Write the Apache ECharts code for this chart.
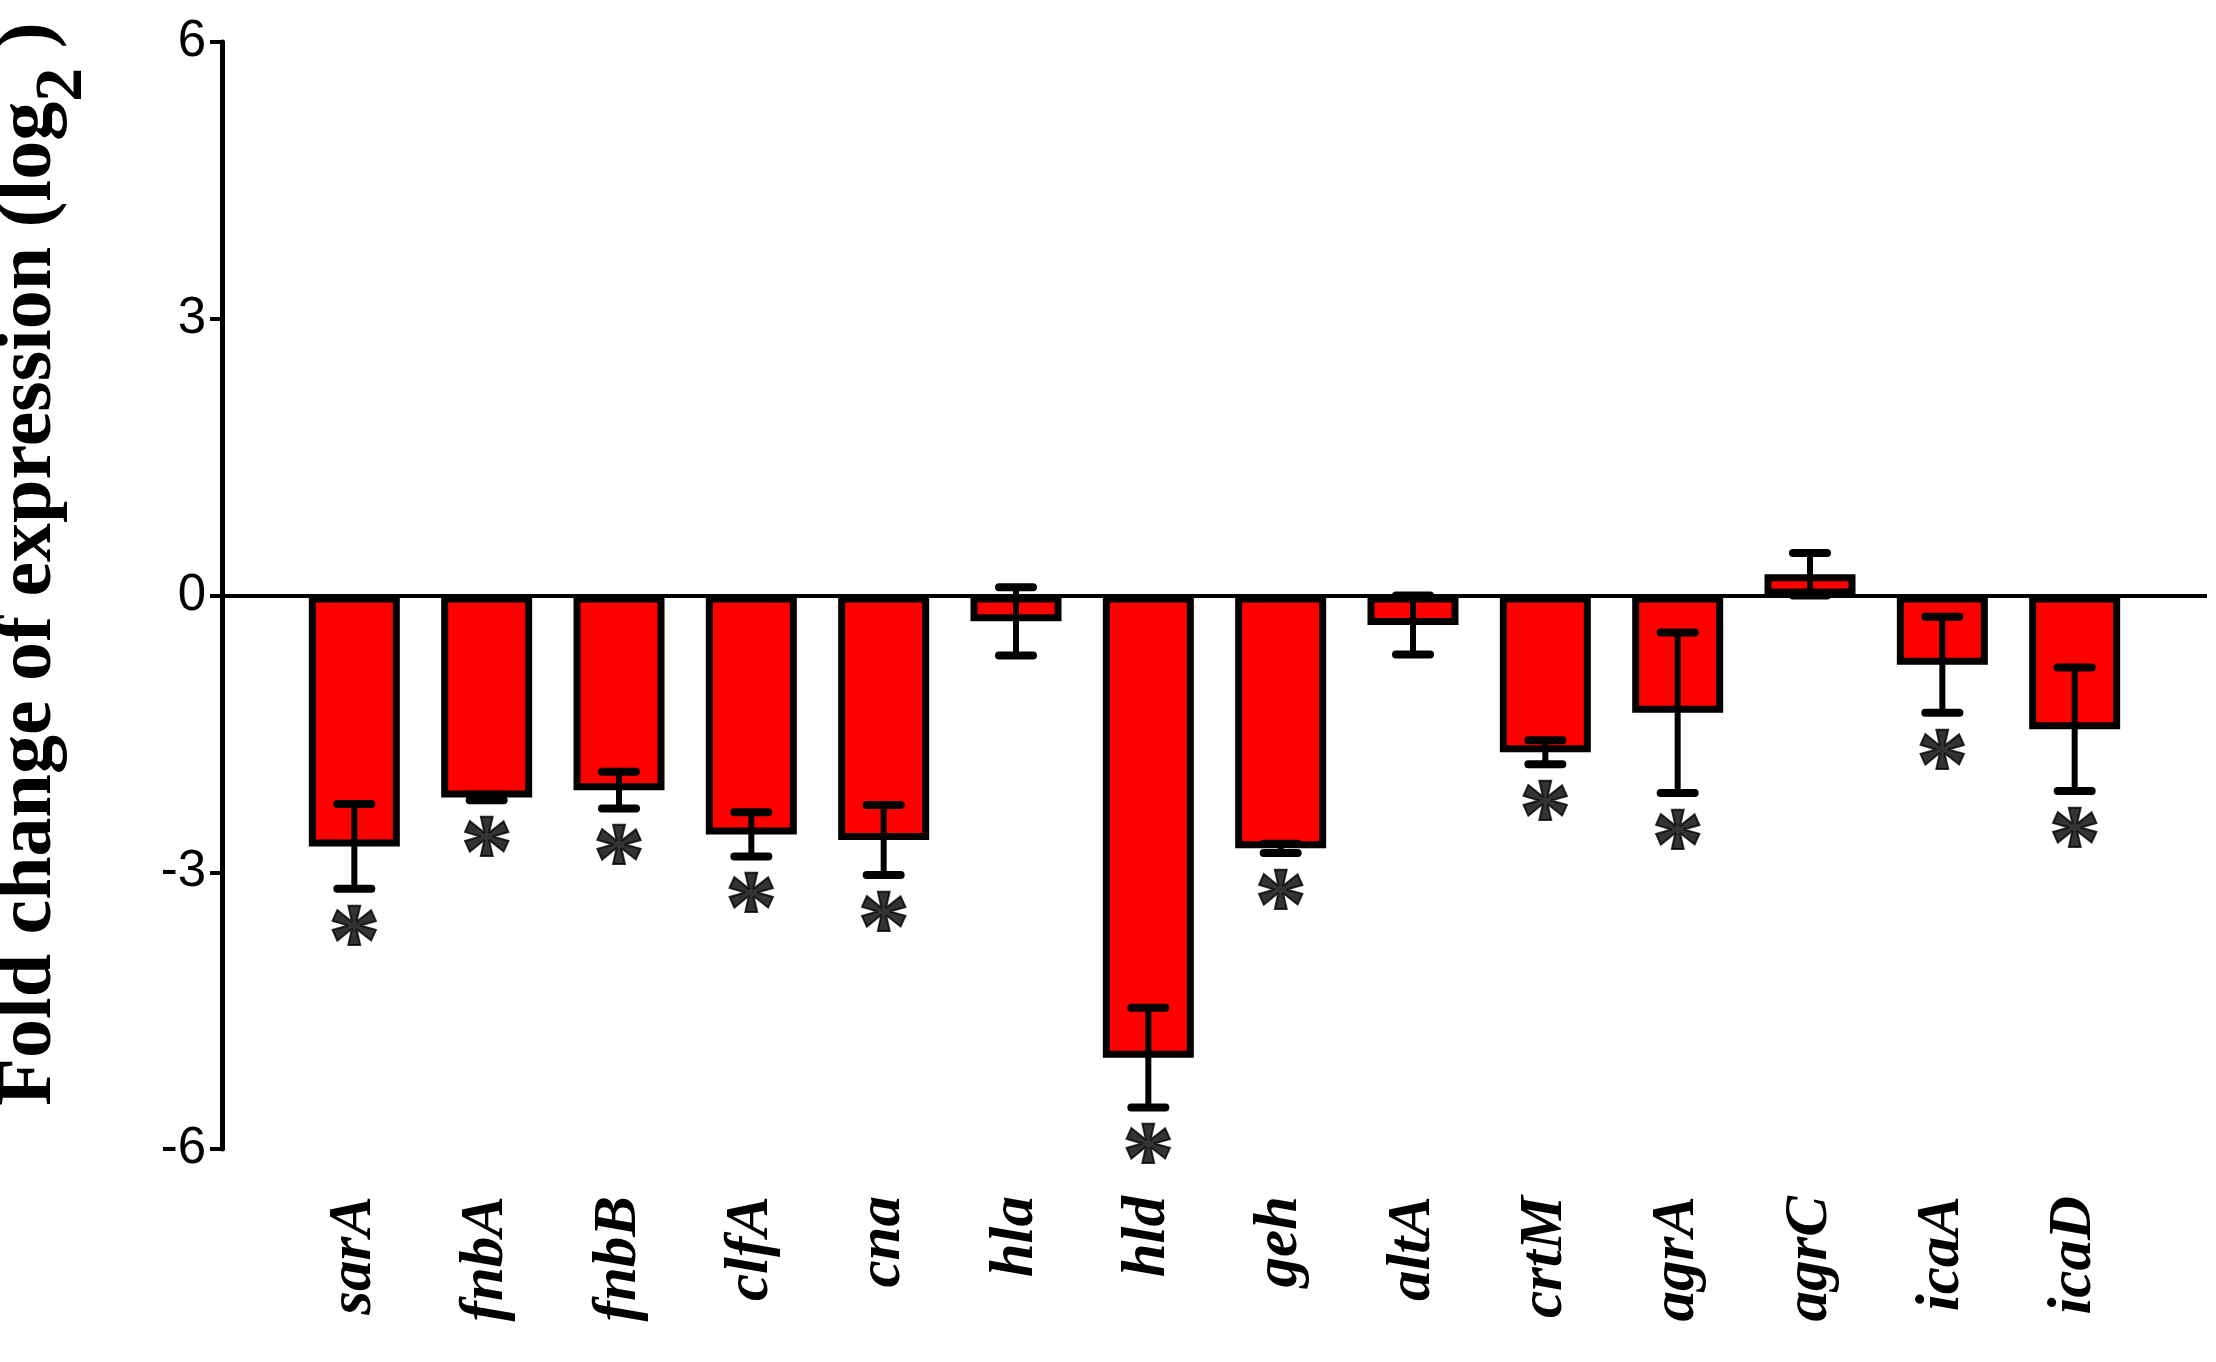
<!DOCTYPE html>
<html>
<head>
<meta charset="utf-8">
<script src="https://cdn.jsdelivr.net/npm/echarts@6/dist/echarts.min.js"></script>
<style>
html,body{margin:0;padding:0;background:#fff;}
#chart{width:2216px;height:1362px;}
</style>
</head>
<body>
<div id="chart"></div>
<script>
const genes = ['sarA','fnbA','fnbB','clfA','cna','hla','hld','geh','altA','crtM','agrA','agrC','icaA','icaD'];
const foldChange = [-2.72,-2.19,-2.11,-2.59,-2.65,-0.28,-5.01,-2.74,-0.32,-1.70,-1.27,0.23,-0.75,-1.45];
const errors = [0.46,0.03,0.20,0.24,0.38,0.37,0.54,0.05,0.32,0.13,0.87,0.23,0.52,0.67];
const significant = [1,1,1,1,1,0,1,1,0,1,1,0,1,1];
const yTicks = [-6,-3,0,3,6];

// pad categories so the zero line extends one slot beyond first/last bar
const cats = [''].concat(genes, ['']);
const barData = [null].concat(foldChange, [null]);
const errData = genes.map((g, i) => [i + 1, foldChange[i] - errors[i], foldChange[i] + errors[i]]);
const starData = genes.map((g, i) => significant[i] ? [i + 1, foldChange[i] - errors[i]] : null).filter(d => d);

const chart = echarts.init(document.getElementById('chart'));
chart.setOption({
  animation: false,
  backgroundColor: '#ffffff',
  grid: {left: 222, right: 9, top: 42, bottom: 213, containLabel: false},
  xAxis: {
    type: 'category',
    data: cats,
    boundaryGap: false,
    axisLine: {show: false, onZero: false},
    axisTick: {show: false},
    splitLine: {show: false},
    axisLabel: {
      interval: 0,
      rotate: 90,
      margin: 47,
      color: '#000',
      fontFamily: 'Liberation Serif',
      fontWeight: 'bold',
      fontStyle: 'italic',
      fontSize: 61
    }
  },
  yAxis: {
    type: 'value',
    min: yTicks[0],
    max: yTicks[yTicks.length - 1],
    interval: 3,
    axisLine: {show: true, lineStyle: {color: '#000', width: 5}},
    axisTick: {show: true, length: 12, lineStyle: {color: '#000', width: 4}},
    splitLine: {show: false},
    axisLabel: {
      margin: 16,
      color: '#000',
      fontFamily: 'Liberation Sans',
      fontSize: 51
    }
  },
  graphic: [{
    type: 'text',
    x: 44,
    y: 564,
    rotation: Math.PI / 2,
    style: {
      text: '{a|Fold change of expression (log}{s|2}{a| )}',
      textAlign: 'center',
      textVerticalAlign: 'middle',
      fill: '#000',
      rich: {
        a: {fontFamily: 'Liberation Serif', fontWeight: 'bold', fontSize: 78, lineHeight: 106, verticalAlign: 'top', fill: '#000'},
        s: {fontFamily: 'Liberation Serif', fontWeight: 'bold', fontSize: 68, lineHeight: 106, verticalAlign: 'bottom', fill: '#000'}
      }
    }
  }],
  series: [
    {
      type: 'bar',
      data: barData,
      barWidth: 91,
      z: 2,
      itemStyle: {color: '#ff0000', borderColor: '#000', borderWidth: 7},
      markLine: {
        silent: true,
        symbol: 'none',
        label: {show: false},
        lineStyle: {color: '#000', width: 4, type: 'solid'},
        data: [{yAxis: 0}],
        z: 1
      }
    },
    {
      type: 'custom',
      z: 5,
      data: errData,
      renderItem: function (params, api) {
        const x = api.coord([api.value(0), 0])[0];
        const lo = api.coord([api.value(0), api.value(1)])[1];
        const hi = api.coord([api.value(0), api.value(2)])[1];
        const hw = 17;
        const st = {stroke: '#000', lineWidth: 8, lineCap: 'round'};
        return {
          type: 'group',
          children: [
            {type: 'line', shape: {x1: x, y1: lo, x2: x, y2: hi}, style: {stroke: '#000', lineWidth: 6}},
            {type: 'line', shape: {x1: x - hw, y1: lo, x2: x + hw, y2: lo}, style: st},
            {type: 'line', shape: {x1: x - hw, y1: hi, x2: x + hw, y2: hi}, style: st}
          ]
        };
      }
    },
    {
      type: 'scatter',
      z: 6,
      data: starData,
      symbolSize: 1,
      itemStyle: {color: 'rgba(0,0,0,0)'},
      label: {
        show: true,
        position: 'inside',
        formatter: '*',
        offset: [0, 58],
        color: '#000',
        textBorderColor: '#000',
        textBorderWidth: 2,
        fontFamily: 'Liberation Serif',
        fontWeight: 'bold',
        fontSize: 104
      }
    }
  ]
});
</script>
</body>
</html>
